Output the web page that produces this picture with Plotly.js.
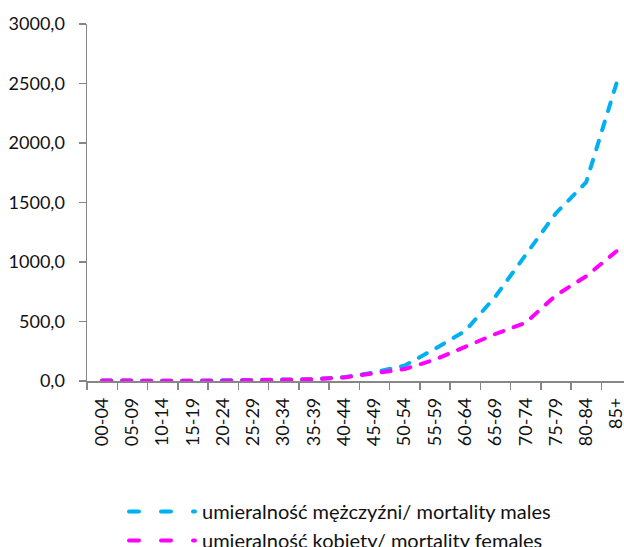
<!DOCTYPE html>
<html>
<head>
<meta charset="utf-8">
<script src="https://cdn.plot.ly/plotly-3.0.1.min.js"></script>
<style>html,body{margin:0;padding:0;background:#fff;}#chart{width:624px;height:547px;}</style>
</head>
<body>
<div id="chart"></div>
<script>
var categories = ["00-04","05-09","10-14","15-19","20-24","25-29","30-34","35-39","40-44","45-49","50-54","55-59","60-64","65-69","70-74","75-79","80-84","85+"];
var males = [5, 1.5, 1.5, 3, 5, 6, 10, 16, 32, 72, 130, 270, 420, 710, 1060, 1410, 1670, 2500];
var females = [4, 1.5, 1, 2, 3, 4, 8, 14, 30, 66, 100, 180, 290, 395, 490, 720, 880, 1090];
var yTickVals = [0, 500, 1000, 1500, 2000, 2500, 3000];
var yTickText = ["0,0", "500,0", "1000,0", "1500,0", "2000,0", "2500,0", "3000,0"];
var nameMales = "umieralność mężczyźni/ mortality males";
var nameFemales = "umieralność kobiety/ mortality females";

var font = "Lato, 'Open Sans', sans-serif";
var axisColor = "#868686";

var traces = [
  {x: categories, y: males, type: "scatter", mode: "lines", name: nameMales,
   line: {color: "#00B0F0", width: 4, dash: "9px,11px"}, legendgroup: "m"},
  {x: categories, y: females, type: "scatter", mode: "lines", name: nameFemales,
   line: {color: "#FF00FF", width: 4, dash: "9px,11px"}, legendgroup: "f"}
];

var layout = {
  width: 624, height: 547,
  margin: {l: 87, r: 0, t: 24, b: 166, pad: 0, autoexpand: false},
  paper_bgcolor: "#fff", plot_bgcolor: "#fff",
  font: {family: font, size: 18, color: "#111"},
  showlegend: true,
  legend: {x: 120 / 624, xref: "container", y: 1 - 492/547, yref: "container", xanchor: "left", yanchor: "top", orientation: "v",
           itemwidth: 72, font: {family: font, size: 20, color: "#111"}, tracegroupgap: 0, bgcolor: "rgba(0,0,0,0)"},
  xaxis: {
    type: "category", range: [-0.5, 17.25], showgrid: false, zeroline: false, automargin: false,
    showline: true, linecolor: axisColor, linewidth: 1.5,
    ticks: "outside", tickson: "boundaries", ticklen: 7, tickcolor: axisColor, tickwidth: 1.5,
    tickangle: -90, tickfont: {family: font, size: 18, color: "#111"}, ticklabelstandoff: 8
  },
  yaxis: {
    range: [0, 3000], showgrid: false, zeroline: false, automargin: false,
    showline: true, linecolor: axisColor, linewidth: 1.5,
    ticks: "outside", ticklen: 7, tickcolor: axisColor, tickwidth: 1.5,
    tickmode: "array", tickvals: yTickVals, ticktext: yTickText,
    tickfont: {family: font, size: 18, color: "#111"}, ticklabelstandoff: 10
  }
};

Plotly.newPlot("chart", traces, layout, {displayModeBar: false, staticPlot: true}).then(function(){
  document.querySelectorAll(".scatterlayer path.js-line").forEach(function(p){
    p.style.strokeLinecap = "round";
  });
  document.querySelectorAll(".legend path.js-line").forEach(function(p){
    p.setAttribute("d", "M9,0h66");
    p.style.strokeLinecap = "round";
    p.style.strokeDasharray = "10px,22px";
  });
});
</script>
</body>
</html>
